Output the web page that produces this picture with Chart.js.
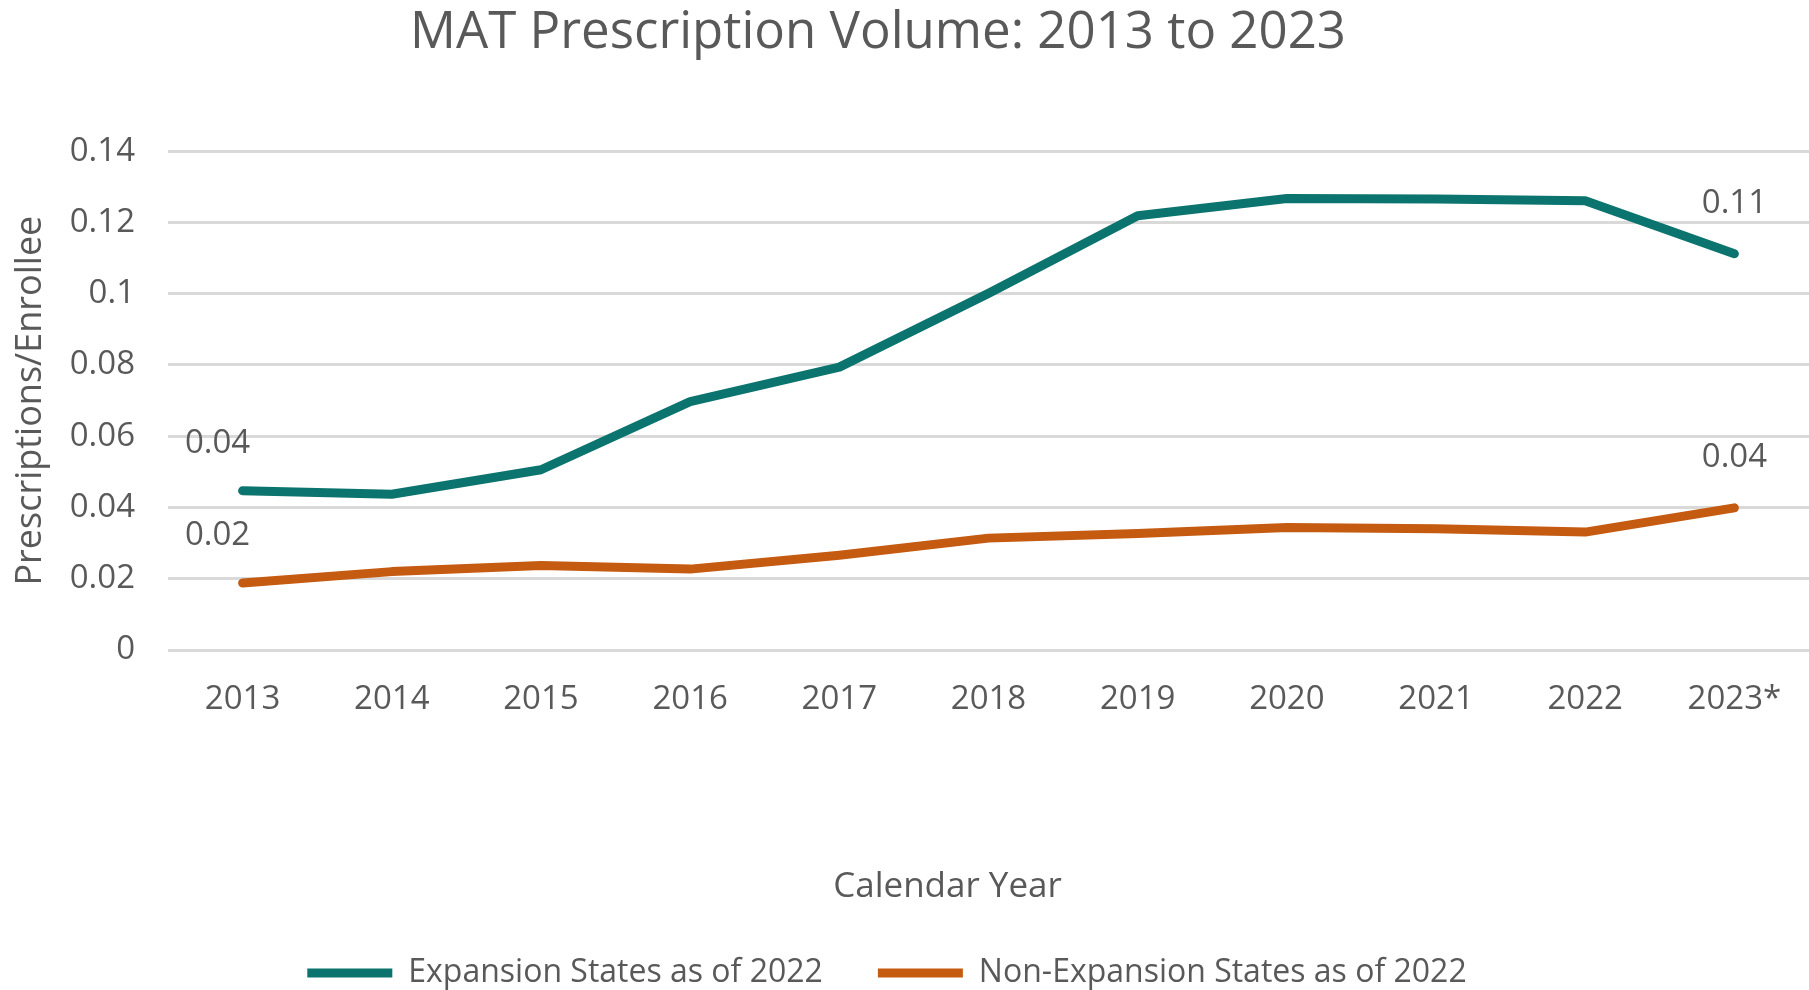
<!DOCTYPE html>
<html>
<head>
<meta charset="utf-8">
<title>MAT Prescription Volume</title>
<script src="https://cdn.jsdelivr.net/npm/chart.js@4/dist/chart.umd.min.js"></script>
<style>
  html, body { margin: 0; padding: 0; background: #fff; }
  #wrap { width: 1809px; height: 990px; position: relative; }
</style>
</head>
<body>
<div id="wrap"><canvas id="chart"></canvas></div>
<script>
// data
const years = ['2013', '2014', '2015', '2016', '2017', '2018', '2019', '2020', '2021', '2022', '2023*'];
const expansion = [0.0447, 0.0437, 0.0506, 0.0697, 0.0794, 0.1001, 0.1219, 0.1267, 0.1266, 0.1261, 0.1112];
const nonExpansion = [0.0188, 0.0220, 0.0237, 0.0227, 0.0266, 0.0314, 0.0327, 0.0344, 0.0340, 0.0331, 0.0399];

const textColor = '#595959';
const fontFamily = '"Open Sans", "Noto Sans", sans-serif';

// labels on first and last point of each line, like the original
const endLabels = {
    id: 'endLabels',
    afterDatasetsDraw(chart) {
        const ctx = chart.ctx;
        ctx.save();
        ctx.font = '33px ' + fontFamily;
        ctx.fillStyle = textColor;
        ctx.textAlign = 'center';
        ctx.textBaseline = 'middle';
        chart.data.datasets.forEach((ds, i) => {
            const meta = chart.getDatasetMeta(i);
            const last = ds.data.length - 1;
            [[0, -25, -47], [last, 0, -50]].forEach(([idx, dx, dy]) => {
                const pt = meta.data[idx];
                ctx.fillText(ds.data[idx].toFixed(2), pt.x + dx, pt.y + dy);
            });
        });
        ctx.restore();
    }
};

// the original centres its title, axis title and legend a bit left of centre
const nudgeLeft = {
    id: 'nudgeLeft',
    afterLayout(chart) {
        chart.titleBlock.left -= 53;
        chart.legend.left -= 35;
        chart.scales.x.left -= 82;
    }
};

const ctx = document.getElementById('chart');
new Chart(ctx, {
    type: 'line',
    data: {
        labels: years,
        datasets: [
            {
                label: 'Expansion States as of 2022',
                data: expansion,
                borderColor: '#0B746F',
                backgroundColor: '#0B746F',
                borderWidth: 9,
                borderCapStyle: 'round',
                borderJoinStyle: 'round',
                pointRadius: 0,
                tension: 0
            },
            {
                label: 'Non-Expansion States as of 2022',
                data: nonExpansion,
                borderColor: '#C55A11',
                backgroundColor: '#C55A11',
                borderWidth: 9,
                borderCapStyle: 'round',
                borderJoinStyle: 'round',
                pointRadius: 0,
                tension: 0
            }
        ]
    },
    options: {
        responsive: true,
        maintainAspectRatio: false,
        animation: false,
        layout: { padding: 0 },
        plugins: {
            title: {
                display: true,
                text: 'MAT Prescription Volume: 2013 to 2023',
                color: textColor,
                font: { family: fontFamily, size: 51, weight: 'normal' },
                padding: { top: 3, bottom: 87 }
            },
            legend: {
                position: 'bottom',
                maxHeight: 88,
                labels: {
                    color: textColor,
                    font: { family: fontFamily, size: 32 },
                    usePointStyle: true,
                    pointStyle: 'line',
                    pointStyleWidth: 85,
                    padding: 55
                }
            },
            tooltip: { enabled: false }
        },
        scales: {
            x: {
                offset: true,
                grid: { display: false },
                border: { display: false },
                ticks: {
                    color: textColor,
                    font: { family: fontFamily, size: 33 },
                    padding: 22,
                    maxRotation: 0
                },
                title: {
                    display: true,
                    text: 'Calendar Year',
                    color: textColor,
                    font: { family: fontFamily, size: 35 },
                    padding: { top: 0, bottom: -6 }
                },
                afterFit(scale) { scale.height = 252; }
            },
            y: {
                min: 0,
                max: 0.14,
                grid: { color: '#D9D9D9', lineWidth: 3, drawTicks: false },
                border: { display: false },
                ticks: {
                    stepSize: 0.02,
                    color: textColor,
                    font: { family: fontFamily, size: 33 },
                    padding: 33,
                    callback: (v) => String(Number(v.toFixed(2)))
                },
                title: {
                    display: true,
                    text: 'Prescriptions/Enrollee',
                    color: textColor,
                    font: { family: fontFamily, size: 36 },
                    padding: { top: 9, bottom: 0 }
                },
                afterFit(scale) { scale.width = 168; }
            }
        }
    },
    plugins: [endLabels, nudgeLeft]
});
</script>
</body>
</html>
